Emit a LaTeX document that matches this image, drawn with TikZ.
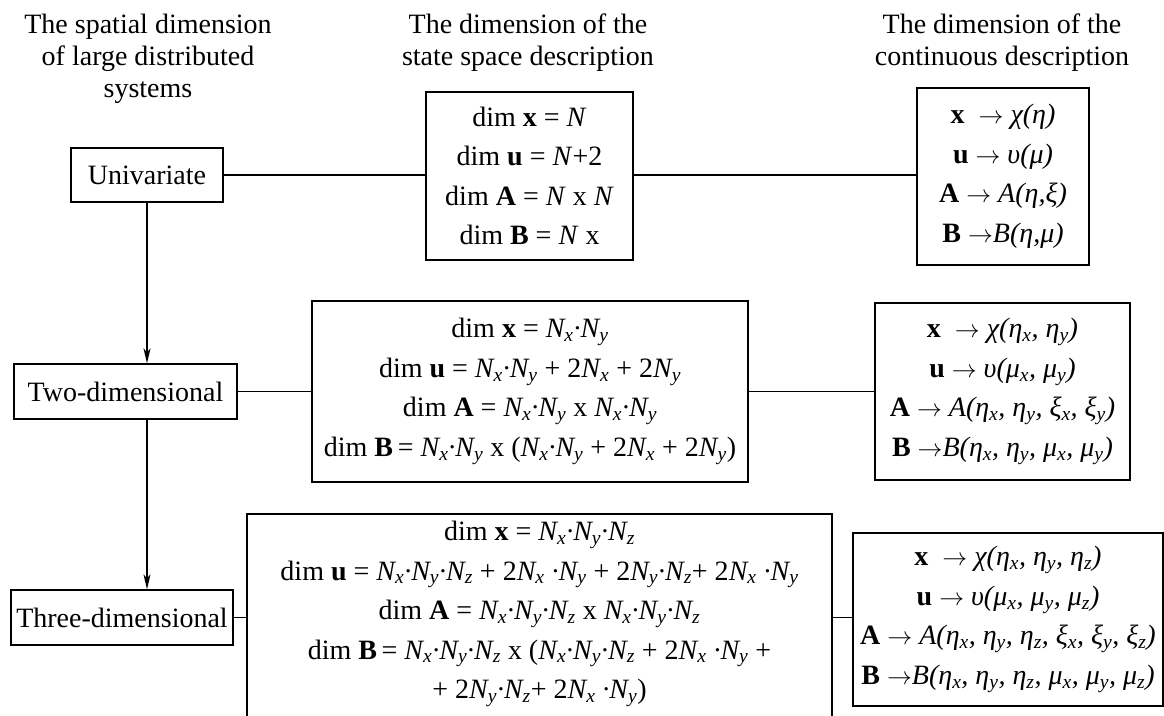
\documentclass[tikz,border=0pt]{standalone}
\usepackage{fontspec}
\setmainfont{Liberation Serif}
\usetikzlibrary{arrows.meta}
\newcommand\s[1]{\textsubscript{#1}}
\newcommand\ra{$\rightarrow$}
\begin{document}
\begin{tikzpicture}[x=1pt,y=-1pt,
  every node/.style={font=\fontsize{28}{39.5}\selectfont, inner sep=0pt},
  box/.style={draw, line width=1.3pt, align=center},
  hdr/.style={align=center, font=\fontsize{28}{32}\selectfont, anchor=north},
  conn/.style={line width=1.3pt},
  arr/.style={conn, -{Stealth[length=15pt,width=7pt,inset=4pt]}}]
\useasboundingbox (0,0) rectangle (1164,715);
\clip (0,0) rectangle (1164,715);
% headers
\node[hdr] (h1) at (148,14) {The spatial dimension\\of large distributed\\systems};
\node[hdr] (h2) at (528,14) {The dimension of the\\state space description};
\node[hdr] (h3) at (1002,14) {The dimension of the\\continuous description};
% row 1
\node[box, minimum width=152pt, minimum height=54pt] (uni) at (147,175) {Univariate};
\node[box, minimum width=207pt, minimum height=168pt] (ss1) at (529.5,176)
  {dim \textbf{x} = \textit{N}\\
   dim \textbf{u} = \textit{N}+2\\
   dim \textbf{A} = \textit{N} x \textit{N}\\
   dim \textbf{B} = \textit{N} x};
\node[box, minimum width=172pt, minimum height=177pt] (cs1) at (1003,176.5)
  {\textbf{x}\enspace\ra\ \textit{χ(η)}\\
   \textbf{u} \ra\ \textit{υ(μ)}\\
   \textbf{A} \ra\ \textit{A(η,ξ)}\\
   \textbf{B} \ra\textit{B(η,μ)}};
% row 2
\node[box, minimum width=223pt, minimum height=55pt] (two) at (125.5,391.5) {Two-dimensional};
\node[box, minimum width=436pt, minimum height=181pt] (ss2) at (530,391.5)
  {dim \textbf{x} = \textit{N\s{x}·N\s{y}}\\
   dim \textbf{u} = \textit{N\s{x}·N\s{y}} + 2\textit{N\s{x}} + 2\textit{N\s{y}}\\
   dim \textbf{A} = \textit{N\s{x}·N\s{y}} x \textit{N\s{x}·N\s{y}}\\
   dim \textbf{B}\,= \textit{N\s{x}·N\s{y}} x (\textit{N\s{x}·N\s{y}} + 2\textit{N\s{x}} + 2\textit{N\s{y}})};
\node[box, minimum width=255pt, minimum height=177pt] (cs2) at (1002.5,391.5)
  {\textbf{x}\enspace\ra\ \textit{χ(η\s{x}, η\s{y})}\\
   \textbf{u} \ra\ \textit{υ(μ\s{x}, μ\s{y})}\\
   \textbf{A} \ra\ \textit{A(η\s{x}, η\s{y}, ξ\s{x}, ξ\s{y})}\\
   \textbf{B} \ra\textit{B(η\s{x}, η\s{y}, μ\s{x}, μ\s{y})}};
% row 3
\node[box, minimum width=222pt, minimum height=55pt] (three) at (122,617.5) {Three-dimensional};
\node[box, minimum width=585pt, minimum height=226pt] (ss3) at (539.5,627) {};
\node[align=center] (ss3t) at (539.5,614)
  {dim \textbf{x} = \textit{N\s{x}·N\s{y}·N\s{z}}\\
   dim \textbf{u} = \textit{N\s{x}·N\s{y}·N\s{z}} + 2\textit{N\s{x} ·N\s{y}} + 2\textit{N\s{y}·N\s{z}}+ 2\textit{N\s{x} ·N\s{y}}\\
   dim \textbf{A} = \textit{N\s{x}·N\s{y}·N\s{z}} x \textit{N\s{x}·N\s{y}·N\s{z}}\\
   dim \textbf{B}\,= \textit{N\s{x}·N\s{y}·N\s{z}} x (\textit{N\s{x}·N\s{y}·N\s{z}} + 2\textit{N\s{x} ·N\s{y}} +\\
   + 2\textit{N\s{y}·N\s{z}}+ 2\textit{N\s{x} ·N\s{y}})};
\node[box, minimum width=310pt, minimum height=173pt] (cs3) at (1008,619.5)
  {\textbf{x}\enspace\ra\ \textit{χ(η\s{x}, η\s{y}, η\s{z})}\\
   \textbf{u} \ra\ \textit{υ(μ\s{x}, μ\s{y}, μ\s{z})}\\
   \textbf{A} \ra\ \textit{A(η\s{x}, η\s{y}, η\s{z}, ξ\s{x}, ξ\s{y}, ξ\s{z})}\\
   \textbf{B} \ra\textit{B(η\s{x}, η\s{y}, η\s{z}, μ\s{x}, μ\s{y}, μ\s{z})}};
% connectors
\draw[conn] (uni.east) -- (uni.east -| ss1.west);
\draw[conn] (uni.east -| ss1.east) -- (uni.east -| cs1.west);
\draw[arr] (uni.south) -- (uni.south |- two.north);
\draw[conn] (two.east) -- (two.east -| ss2.west);
\draw[conn] (two.east -| ss2.east) -- (two.east -| cs2.west);
\draw[arr] (uni.south |- two.south) -- (uni.south |- three.north);
\draw[conn] (three.east) -- (three.east -| ss3.west);
\draw[conn] (three.east -| ss3.east) -- (three.east -| cs3.west);
\end{tikzpicture}
\end{document}
